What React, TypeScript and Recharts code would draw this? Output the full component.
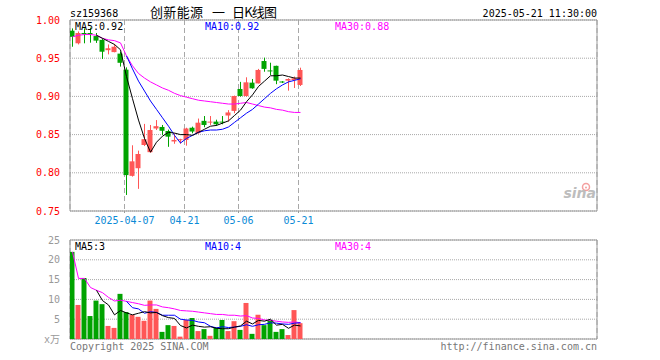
import React from "react";
import {
  ComposedChart,
  Bar,
  Line,
  XAxis,
  YAxis,
  CartesianGrid,
  Cell,
  ReferenceArea,
} from "recharts";

// daily candles, index 0 = first trading day shown
const openP = [
  0.986, 0.9695, 0.983, 0.983, 0.979, 0.974, 0.9605, 0.958, 0.956, 0.935,
  0.796, 0.806, 0.8364, 0.827, 0.858, 0.86, 0.8547, 0.841, 0.843, 0.843,
  0.859, 0.852, 0.868, 0.866, 0.867, 0.867, 0.875, 0.881, 0.9097, 0.9005,
  0.918, 0.917, 0.9463, 0.934, 0.94, 0.9195, 0.9206, 0.9215, 0.915,
];
const highP = [
  0.989, 0.985, 0.989, 0.99, 0.983, 0.976, 0.968, 0.9686, 0.9586, 0.938,
  0.836, 0.829, 0.864, 0.8626, 0.869, 0.8626, 0.8565, 0.8516, 0.8445, 0.859,
  0.8604, 0.871, 0.8743, 0.8743, 0.8695, 0.8743, 0.882, 0.901, 0.919, 0.925,
  0.9228, 0.936, 0.9507, 0.9441, 0.9402, 0.92, 0.9237, 0.926, 0.9376,
];
const lowP = [
  0.965, 0.968, 0.9695, 0.9703, 0.97, 0.949, 0.955, 0.9577, 0.939, 0.771,
  0.795, 0.779, 0.835, 0.8263, 0.856, 0.8495, 0.834, 0.838, 0.838, 0.8355,
  0.8517, 0.851, 0.8596, 0.8626, 0.8613, 0.8635, 0.867, 0.878, 0.8997, 0.8997,
  0.91, 0.917, 0.9323, 0.928, 0.916, 0.9175, 0.9075, 0.911, 0.9136,
];
const closeP = [
  0.978, 0.983, 0.982, 0.9825, 0.973, 0.9585, 0.963, 0.965, 0.944, 0.797,
  0.815, 0.8246, 0.844, 0.856, 0.861, 0.855, 0.8473, 0.843, 0.844, 0.858,
  0.854, 0.8656, 0.8626, 0.867, 0.8635, 0.866, 0.879, 0.9005, 0.9005, 0.9184,
  0.9106, 0.9346, 0.936, 0.9335, 0.9206, 0.919, 0.9228, 0.9237, 0.9346,
];

// price moving averages as drawn
const ma5 = [
  null, null, null, null, 0.98, 0.976, 0.972, 0.968, 0.961, 0.926,
  0.897, 0.869, 0.845, 0.827, 0.84, 0.848, 0.853, 0.852, 0.85, 0.85,
  0.849, 0.853, 0.857, 0.861, 0.862, 0.865, 0.868, 0.875, 0.882, 0.893,
  0.902, 0.913, 0.92, 0.927, 0.927, 0.928, 0.926, 0.924, 0.924,
];
const ma10 = [
  null, null, null, null, null, null, null, null, null, 0.953,
  0.936, 0.92, 0.907, 0.894, 0.883, 0.872, 0.861, 0.849, 0.839, 0.845,
  0.849, 0.853, 0.855, 0.856, 0.856, 0.857, 0.86, 0.866, 0.872, 0.878,
  0.883, 0.89, 0.897, 0.904, 0.91, 0.915, 0.919, 0.921, 0.923,
];
const ma30 = [
  0.978, 0.98, 0.981, 0.981, 0.98, 0.976, 0.974, 0.973, 0.97, 0.953,
  0.94, 0.93, 0.924, 0.919, 0.915, 0.911, 0.908, 0.904, 0.901, 0.899,
  0.897, 0.895, 0.894, 0.893, 0.892, 0.891, 0.89, 0.89, 0.891, 0.892,
  0.89, 0.888, 0.886, 0.885, 0.883, 0.882, 0.88, 0.879, 0.879,
];

// volume in 万
const volume = [
  22.0, 8.6, 15.4, 5.8, 9.7, 8.8, 3.3, 2.8, 11.4, 6.8,
  6.1, 5.6, 4.6, 9.7, 7.6, 1.8, 3.5, 3.3, 0.6, 4.8,
  5.3, 2.0, 2.5, 0.8, 2.9, 4.8, 2.0, 4.5, 2.3, 9.1,
  1.3, 6.1, 3.5, 4.8, 1.8, 2.5, 1.0, 7.3, 4.0,
];
const volMa5 = [
  null, null, null, null, 12.3, 9.7, 8.6, 6.1, 7.2, 6.6,
  6.1, 6.5, 6.9, 6.6, 6.7, 5.9, 5.4, 5.2, 3.4, 2.8,
  3.5, 3.2, 3.0, 3.1, 2.7, 2.6, 2.6, 3.0, 3.3, 4.5,
  3.8, 4.7, 4.5, 5.0, 3.5, 3.7, 2.7, 3.5, 3.3,
];
const volMa10 = [
  null, null, null, null, null, null, null, null, null, 9.5,
  7.9, 7.6, 6.5, 6.9, 6.7, 6.0, 6.0, 6.0, 5.0, 4.8,
  4.7, 4.3, 4.1, 3.2, 2.8, 3.1, 2.9, 3.0, 3.2, 3.6,
  3.2, 3.6, 3.7, 4.1, 4.0, 3.8, 3.7, 4.0, 4.1,
];
const volMa30 = [
  22.0, 15.3, 15.3, 13.0, 12.3, 11.7, 10.5, 9.6, 9.8, 9.5,
  9.2, 8.9, 8.5, 8.6, 8.6, 8.1, 7.9, 7.6, 7.2, 7.1,
  7.0, 6.8, 6.6, 6.4, 6.2, 6.2, 6.0, 6.0, 5.8, 5.9,
  5.3, 5.2, 4.8, 4.7, 4.5, 4.3, 4.2, 4.3, 4.1,
];

const priceTicks = [0.75, 0.8, 0.85, 0.9, 0.95, 1.0];
const volTicks = [0, 5, 10, 15, 20, 25];
const dateTickIdx = [9, 19, 28, 38];
const dateTickLabels = ["2025-04-07", "04-21", "05-06", "05-21"];

const RED = "#ff5656";
const GREEN = "#00a300";
const GRID = "#a8a8a8";
const BORDER = "#9a9a9a";
const MONO = "'DejaVu Sans Mono', 'Noto Sans CJK SC', monospace";
const CJK = "'Noto Sans CJK SC', sans-serif";

// x domain: 6px per trading day across the 527px plot, room left for ~88 days
const X0 = -0.4167;
const X1 = 87.4167;
// grid lines sit on the left edge of the candle body
const dateTicks = dateTickIdx.map((i) => i - 1 / 3);

const rows = openP.map((o, i) => ({
  i,
  open: o,
  high: highP[i],
  low: lowP[i],
  close: closeP[i],
  ma5: ma5[i],
  ma10: ma10[i],
  ma30: ma30[i],
  vol: volume[i],
  vma5: volMa5[i],
  vma10: volMa10[i],
  vma30: volMa30[i],
}));

const dateLabel = (v: number) => {
  const k = dateTicks.findIndex((t) => Math.abs(t - v) < 0.01);
  return k >= 0 ? dateTickLabels[k] : "";
};

const Candle = (props: any) => {
  const { x, y, width, height, payload } = props;
  const { open, close, high, low } = payload;
  const color = close >= open ? RED : GREEN;
  const k = high - low > 0 ? height / (high - low) : 0;
  const yOf = (v: number) => y + (high - v) * k;
  const top = yOf(Math.max(open, close));
  const bot = yOf(Math.min(open, close));
  const cx = Math.round(x + width / 2) + 0.5;
  return (
    <g>
      <line x1={cx} x2={cx} y1={y} y2={y + height} stroke={color} strokeWidth={1} />
      <rect x={x} y={top} width={width} height={Math.max(1, bot - top)} fill={color} />
    </g>
  );
};

const App: React.FC = () => {
  return (
    <div
      style={{
        position: "absolute",
        left: 0,
        top: 0,
        width: 660,
        height: 360,
        background: "#fff",
        overflow: "hidden",
      }}
    >
      {/* Price panel */}
      <div style={{ position: "absolute", left: 0, top: 0 }}>
        <ComposedChart
          width={660}
          height={230}
          data={rows}
          margin={{ top: 20, right: 63, bottom: 0, left: 0 }}
        >
          <CartesianGrid horizontal vertical={false} stroke={GRID} strokeDasharray="1 1" />
          <CartesianGrid horizontal={false} vertical stroke={GRID} strokeDasharray="5 3" />
          <XAxis
            type="number"
            dataKey="i"
            domain={[X0, X1]}
            allowDataOverflow
            ticks={dateTicks}
            tickFormatter={dateLabel}
            interval={0}
            axisLine={false}
            tickLine={{ stroke: BORDER }}
            tickSize={2}
            tickMargin={4}
            height={19}
            tick={{ fill: "#0a8ad6", fontSize: 10, fontFamily: MONO }}
          />
          <YAxis
            type="number"
            domain={[0.75, 1.0]}
            allowDataOverflow
            ticks={priceTicks}
            interval={0}
            tickFormatter={(v: number) => v.toFixed(2)}
            axisLine={false}
            tickLine={false}
            tickMargin={4}
            width={70}
            tick={{ fill: "#ff0000", fontSize: 10, fontFamily: MONO }}
          />
          <ReferenceArea
            x1={X0}
            x2={X1}
            y1={0.75}
            y2={1.0}
            fill="none"
            fillOpacity={0}
            stroke={BORDER}
            strokeWidth={1}
          />
          <Bar
            dataKey={(d: any) => [d.low, d.high]}
            barSize={5}
            shape={<Candle />}
            isAnimationActive={false}
          />
          <Line type="linear" dataKey="ma30" stroke="#ff00ff" strokeWidth={1} dot={false} isAnimationActive={false} />
          <Line type="linear" dataKey="ma10" stroke="#0000ff" strokeWidth={1} dot={false} isAnimationActive={false} />
          <Line type="linear" dataKey="ma5" stroke="#000000" strokeWidth={1} dot={false} isAnimationActive={false} />
        </ComposedChart>
      </div>

      {/* Volume panel */}
      <div style={{ position: "absolute", left: 0, top: 230 }}>
        <ComposedChart
          width={660}
          height={130}
          data={rows}
          margin={{ top: 10, right: 63, bottom: 21, left: 0 }}
        >
          <CartesianGrid horizontal vertical={false} stroke={GRID} strokeDasharray="1 1" />
          <CartesianGrid horizontal={false} vertical stroke={GRID} strokeDasharray="5 3" />
          <XAxis
            type="number"
            dataKey="i"
            domain={[X0, X1]}
            allowDataOverflow
            ticks={dateTicks}
            interval={0}
            tick={false}
            axisLine={false}
            tickLine={false}
            height={0}
          />
          <YAxis
            type="number"
            domain={[0, 25]}
            allowDataOverflow
            ticks={volTicks}
            interval={0}
            tickFormatter={(v: number) => (v === 0 ? "x万" : String(v))}
            axisLine={false}
            tickLine={false}
            tickMargin={4}
            width={70}
            tick={{ fill: "#999999", fontSize: 10, fontFamily: MONO }}
          />
          <ReferenceArea
            x1={X0}
            x2={X1}
            y1={0}
            y2={25}
            fill="none"
            fillOpacity={0}
            stroke={BORDER}
            strokeWidth={1}
          />
          <Bar dataKey="vol" barSize={5} isAnimationActive={false}>
            {rows.map((r, idx) => (
              <Cell key={`v-${idx}`} fill={r.close >= r.open ? RED : GREEN} />
            ))}
          </Bar>
          <Line type="linear" dataKey="vma30" stroke="#ff00ff" strokeWidth={1} dot={false} isAnimationActive={false} />
          <Line type="linear" dataKey="vma10" stroke="#0000ff" strokeWidth={1} dot={false} isAnimationActive={false} />
          <Line type="linear" dataKey="vma5" stroke="#000000" strokeWidth={1} dot={false} isAnimationActive={false} />
        </ComposedChart>
      </div>

      {/* Titles, legends, footer */}
      <svg
        width={660}
        height={360}
        style={{ position: "absolute", left: 0, top: 0, pointerEvents: "none" }}
      >
        <g fontFamily={MONO} fontSize={10}>
          <text x={70} y={17} fill="#000">sz159368</text>
          <text x={597} y={17} fill="#000" textAnchor="end">2025-05-21 11:30:00</text>
          <text x={75} y={30} fill="#000">MA5:0.92</text>
          <text x={205} y={30} fill="#0000ff">MA10:0.92</text>
          <text x={335} y={30} fill="#ff00ff">MA30:0.88</text>
          <text x={75} y={250} fill="#000">MA5:3</text>
          <text x={205} y={250} fill="#0000ff">MA10:4</text>
          <text x={335} y={250} fill="#ff00ff">MA30:4</text>
          <text x={70} y={350} fill="#777">Copyright 2025 SINA.COM</text>
          <text x={597} y={350} fill="#777" textAnchor="end">http://finance.sina.com.cn</text>
        </g>
        <g fill="#000" fontFamily={CJK} fontSize={13}>
          <text x={150} y={17} textLength={53} lengthAdjust="spacing">创新能源</text>
          <text x={212} y={17}>一</text>
          <text x={232} y={17} textLength={45} lengthAdjust="spacing">日K线图</text>
        </g>
        {/* sina watermark */}
        <circle cx={586} cy={187} r={3.5} fill="none" stroke="#f4a0a0" strokeWidth={1.5} />
        <circle cx={586} cy={187.5} r={1} fill="#f4a0a0" />
        <text
          x={596}
          y={198}
          textAnchor="end"
          fill="#bdbdbd"
          fontFamily="'DejaVu Sans', sans-serif"
          fontSize={14}
          fontStyle="italic"
          fontWeight="bold"
        >
          sina
        </text>
      </svg>
    </div>
  );
};

export default App;
